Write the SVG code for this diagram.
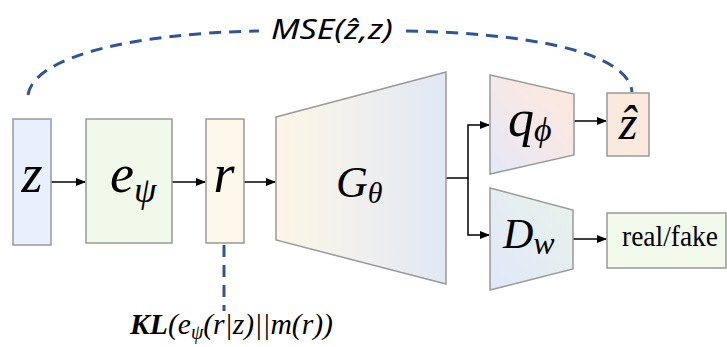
<svg xmlns="http://www.w3.org/2000/svg" width="727" height="347" viewBox="0 0 727 347">
<defs>
<linearGradient id="gG" x1="0" y1="0" x2="1" y2="0"><stop offset="0" stop-color="#fdf6e7"/><stop offset="1" stop-color="#e1e8f4"/></linearGradient>
<linearGradient id="gQ" x1="0" y1="1" x2="1" y2="0"><stop offset="0" stop-color="#e4e8f8"/><stop offset="0.6" stop-color="#f8e8e6"/><stop offset="1" stop-color="#fce9dc"/></linearGradient>
<linearGradient id="gD" x1="0" y1="1" x2="1" y2="0"><stop offset="0" stop-color="#dfe8f8"/><stop offset="1" stop-color="#eaf2ea"/></linearGradient>
<marker id="ah" markerWidth="10" markerHeight="8" refX="9" refY="4" orient="auto" markerUnits="userSpaceOnUse"><path d="M0,0 L10,4 L0,8 Z" fill="#000"/></marker>
<style>
.box{stroke:#999;stroke-width:1.5}
.m{font-family:"Liberation Serif","DejaVu Serif",serif;font-style:italic;fill:#000}
.conn{stroke:#000;stroke-width:1.5;fill:none}
.dash{stroke:#2f5597;stroke-width:3;fill:none;stroke-dasharray:12 8}
</style>
</defs>
<g id="connectors">
<line class="conn" x1="51" y1="182" x2="85" y2="182" marker-end="url(#ah)"/>
<line class="conn" x1="172" y1="182" x2="205" y2="182" marker-end="url(#ah)"/>
<line class="conn" x1="244" y1="182" x2="275" y2="182" marker-end="url(#ah)"/>
<polyline class="conn" points="446,178 468,178 468,125 489,125" marker-end="url(#ah)"/>
<polyline class="conn" points="468,178 468,235 489,235" marker-end="url(#ah)"/>
<line class="conn" x1="574" y1="121" x2="606" y2="121" marker-end="url(#ah)"/>
<line class="conn" x1="573" y1="239" x2="606" y2="239" marker-end="url(#ah)"/>
<path class="dash" d="M28,95 C34,55 140,33 259,31"/>
<path class="dash" d="M406,31 C520,33 628,50 632,92"/>
<line class="dash" x1="224" y1="245" x2="224" y2="311" stroke-dasharray="10 6"/>
</g>
<g id="z">
<rect class="box" x="13" y="119" width="38" height="126" fill="#e9f0fd"/>
<text class="m" x="32" y="192" font-size="54" text-anchor="middle">z</text>
</g>
<g id="encoder">
<rect class="box" x="86" y="119" width="86" height="124" fill="#f1f9ea"/>
<text class="m" x="110" y="192" font-size="54">e<tspan font-size="36" dy="10">ψ</tspan></text>
</g>
<g id="r">
<rect class="box" x="206" y="119" width="38" height="124" fill="#fdf8ea"/>
<text class="m" x="224" y="192" font-size="54" text-anchor="middle">r</text>
</g>
<g id="generator">
<polygon class="box" points="276,117 446,72 446,284 276,240" fill="url(#gG)"/>
<text class="m" x="336" y="197" font-size="44">G<tspan font-size="30" dy="6">θ</tspan></text>
</g>
<g id="q">
<polygon class="box" points="490,75 574,94 574,155 490,174" fill="url(#gQ)"/>
<text class="m" x="508" y="136" font-size="52">q<tspan font-size="34" dy="5">ϕ</tspan></text>
</g>
<g id="zhat">
<rect class="box" x="607" y="93" width="42" height="63" fill="#fbe9de"/>
<text class="m" x="628" y="139" font-size="48" text-anchor="middle">ẑ</text>
</g>
<g id="D">
<polygon class="box" points="490,188 573,210 573,269 490,290" fill="url(#gD)"/>
<text class="m" x="503" y="248" font-size="42">D<tspan font-size="32" dy="6">w</tspan></text>
</g>
<g id="realfake">
<rect class="box" x="607" y="213" width="119" height="55" fill="#f2faec"/>
<text x="622" y="246" font-size="30" font-family="Liberation Serif, serif" textLength="96" lengthAdjust="spacingAndGlyphs">real/fake</text>
</g>
<g id="labels">
<text x="271" y="39" font-size="28" font-family="Noto Sans, sans-serif" font-style="italic" textLength="122" lengthAdjust="spacingAndGlyphs">MSE(ẑ,z)</text>
<text class="m" x="130" y="334" font-size="30" textLength="203" lengthAdjust="spacingAndGlyphs"><tspan font-weight="bold">KL</tspan>(e<tspan font-size="20" dy="5">ψ</tspan><tspan dy="-5">(r|z)||m(r))</tspan></text>
</g>
</svg>
